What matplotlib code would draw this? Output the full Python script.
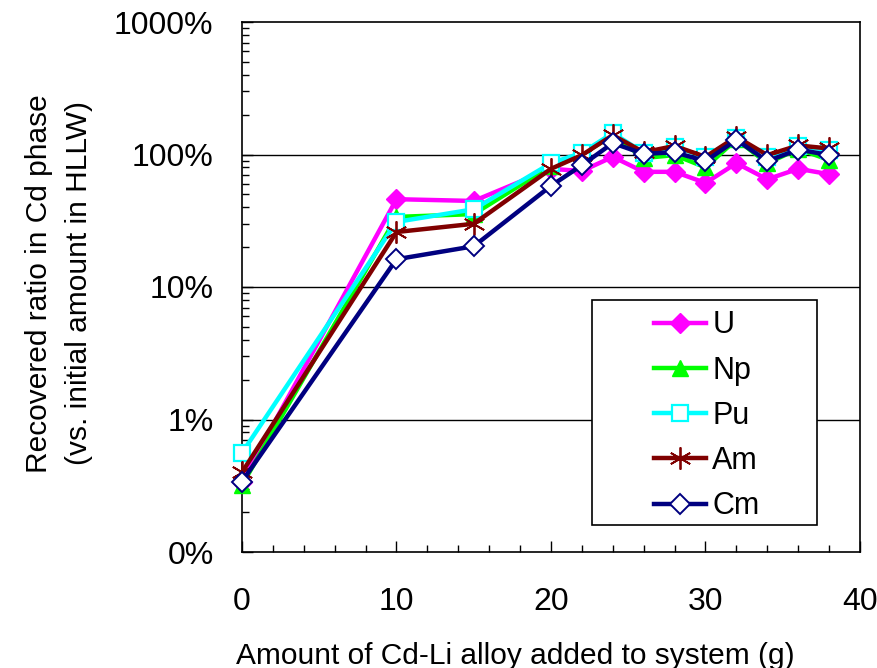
import matplotlib
matplotlib.use("Agg")
import matplotlib.pyplot as plt
from matplotlib.patches import Rectangle
from matplotlib.ticker import FixedLocator, LogLocator, NullFormatter, MultipleLocator

plt.rcParams['font.family'] = ['Liberation Sans', 'DejaVu Sans']

x = [0, 10, 15, 20, 22, 24, 26, 28, 30, 32, 34, 36, 38]
U  = [0.34, 46, 44.6, 78, 75, 96, 74, 74, 61, 86, 65, 78, 71]
Np = [0.32, 33.8, 35.5, 82, 100, 140, 94, 99, 80, 130, 86, 110, 91]
Pu = [0.56, 31, 38.6, 86, 103, 145, 103, 114, 96, 133, 96, 116, 108]
Am = [0.40, 26, 30, 78, 99, 140, 104, 116, 96, 136, 99, 117, 111]
Cm = [0.34, 16.2, 20.3, 58, 83, 122, 101, 104, 89, 129, 89, 109, 99]

series_names = ["U", "Np", "Pu", "Am", "Cm"]
ytick_vals = [0.1, 1, 10, 100, 1000]
ytick_labels = ["0%", "1%", "10%", "100%", "1000%"]
xtick_vals = [0, 10, 20, 30, 40]

fig = plt.figure(figsize=(8.78, 6.68), dpi=100)
ax = fig.add_axes([242/878, 1-552/668, (860-242)/878, (552-22)/668])

for yv in [1, 10, 100]:
    ax.axhline(yv, color='black', lw=1.0, zorder=1)

styles = [
    dict(color='#FF00FF', marker='D', ms=10, mfc='#FF00FF', mec='#FF00FF'),
    dict(color='#00FF00', marker='^', ms=11, mfc='#00FF00', mec='#00FF00'),
    dict(color='#00FFFF', marker='s', ms=11, mfc='white', mec='#00FFFF', mew=1.6),
    dict(color='#800000', marker=(6, 2, 0), ms=16, mec='#800000', mew=1.3),
    dict(color='#000080', marker='D', ms=10.5, mfc='white', mec='#000080', mew=1.4),
]
data = [U, Np, Pu, Am, Cm]
handles = []
for name, ys, st in zip(series_names, data, styles):
    h, = ax.plot(x, ys, lw=3.2, label=name, zorder=3, clip_on=False, **st)
    handles.append(h)

ax.set_yscale('log')
ax.set_ylim(0.1, 1000)
ax.set_xlim(0, 40)
ax.yaxis.set_major_locator(FixedLocator(ytick_vals))
ax.set_yticklabels(ytick_labels)
ax.yaxis.set_minor_locator(LogLocator(base=10, subs=range(2, 10)))
ax.yaxis.set_minor_formatter(NullFormatter())
ax.xaxis.set_major_locator(FixedLocator(xtick_vals))
ax.xaxis.set_minor_locator(MultipleLocator(2))

ax.tick_params(axis='both', which='major', direction='in', length=8, width=1,
               labelsize=23)
ax.tick_params(axis='y', which='major', pad=20.5)
ax.tick_params(axis='x', which='major', pad=25)
ax.tick_params(axis='both', which='minor', direction='in', length=5, width=1)
for sp in ax.spines.values():
    sp.set_linewidth(1.2)

ax.set_xlabel("Amount of Cd-Li alloy added to system (g)", fontsize=21.5, labelpad=18)
ax.xaxis.label.set_x(0.442)
ax.set_ylabel("Recovered ratio in Cd phase\n(vs. initial amount in HLLW)",
              fontsize=21.5, linespacing=1.56)
ax.yaxis.set_label_coords(-0.241, 0.507)

rect = Rectangle((0.566, 0.051), 0.364, 0.424, transform=ax.transAxes,
                 facecolor='white', edgecolor='black', lw=1.2, zorder=5)
ax.add_patch(rect)
leg = ax.legend(handles=handles, loc='center', bbox_to_anchor=(0.752, 0.257),
                frameon=False, fontsize=22, handlelength=1.7, handletextpad=0.2,
                labelspacing=0.5)
leg.set_zorder(6)

fig.savefig("out.png", dpi=100)
